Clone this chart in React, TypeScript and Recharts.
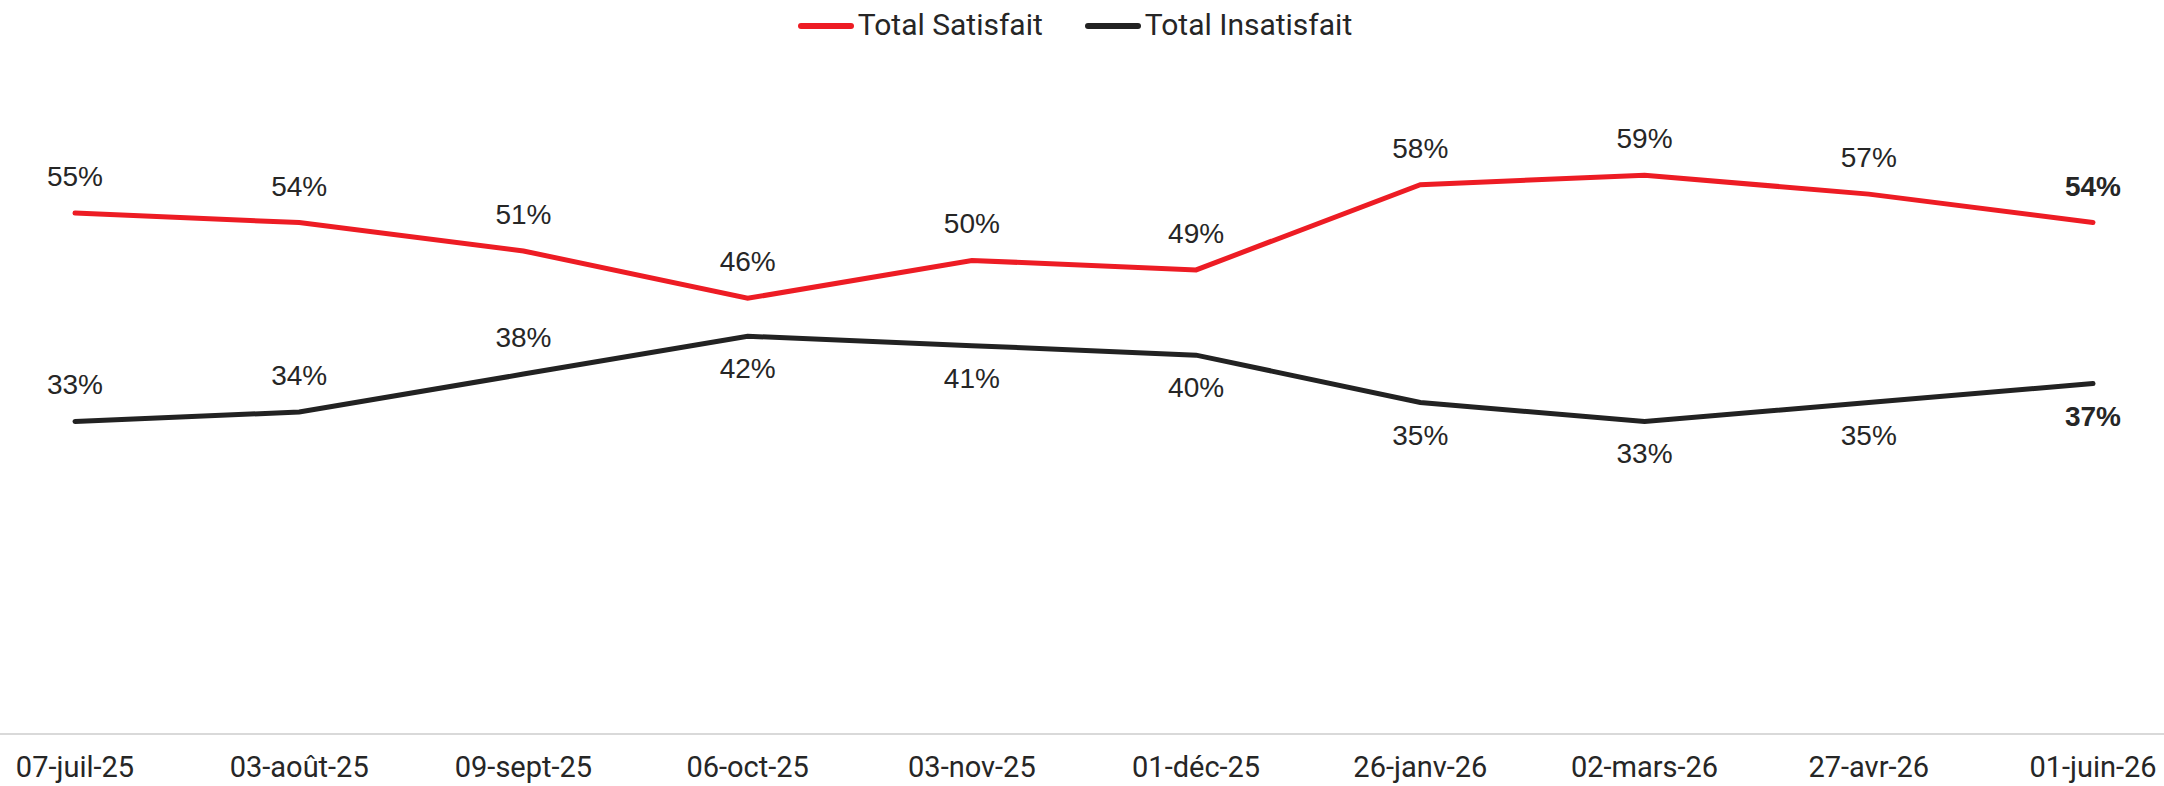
import React from "react";
import { LineChart, Line, XAxis, YAxis, Legend, LabelList } from "recharts";

const dates = [
  "07-juil-25",
  "03-août-25",
  "09-sept-25",
  "06-oct-25",
  "03-nov-25",
  "01-déc-25",
  "26-janv-26",
  "02-mars-26",
  "27-avr-26",
  "01-juin-26",
];
const satisfait = [0.55, 0.54, 0.51, 0.46, 0.5, 0.49, 0.58, 0.59, 0.57, 0.54];
const insatisfait = [0.33, 0.34, 0.38, 0.42, 0.41, 0.4, 0.35, 0.33, 0.35, 0.37];

const data = dates.map((d, i) => ({
  date: d,
  satisfait: satisfait[i],
  insatisfait: insatisfait[i],
}));

const RED = "#ED1C24";
const BLACK = "#222222";
const TEXT = "#262626";
const UI_FONT = "Roboto, 'Noto Sans', sans-serif";
const LABEL_FONT = "'Liberation Sans', Arial, sans-serif";
const LAST = dates.length - 1;

const pct = (v: number) => `${Math.round(v * 100)}%`;

const SatLabel = (props: any) => {
  const { x, y, value, index } = props;
  return (
    <text
      x={x}
      y={y - 27}
      textAnchor="middle"
      fontFamily={LABEL_FONT}
      fontSize={28}
      fontWeight={index === LAST ? 700 : 400}
      fill={TEXT}
    >
      {pct(value)}
    </text>
  );
};

const InsLabel = (props: any) => {
  const { x, y, value, index } = props;
  const above = index < 3;
  return (
    <text
      x={x}
      y={above ? y - 27 : y + 42}
      textAnchor="middle"
      fontFamily={LABEL_FONT}
      fontSize={28}
      fontWeight={index === LAST ? 700 : 400}
      fill={TEXT}
    >
      {pct(value)}
    </text>
  );
};

const Tick = (props: any) => {
  const { x, y, payload } = props;
  return (
    <text
      x={x}
      y={y + 43}
      textAnchor="middle"
      fontFamily={UI_FONT}
      fontSize={29}
      fill={TEXT}
    >
      {payload.value}
    </text>
  );
};

const LegendContent = () => {
  const items = [
    { name: "Total Satisfait", color: RED },
    { name: "Total Insatisfait", color: BLACK },
  ];
  return (
    <div style={{ height: 71, position: "relative", width: 2164 }}>
      <div
        style={{
          position: "absolute",
          top: 7,
          left: 0,
          width: 2150,
          display: "flex",
          justifyContent: "center",
          gap: 42,
          fontFamily: UI_FONT,
          fontSize: 30,
          color: TEXT,
          lineHeight: "36px",
        }}
      >
        {items.map((it) => (
          <div key={it.name} style={{ display: "flex", alignItems: "center" }}>
            <div
              style={{
                width: 56,
                height: 6,
                marginTop: 2,
                borderRadius: 3,
                background: it.color,
                marginRight: 4,
              }}
            />
            <span>{it.name}</span>
          </div>
        ))}
      </div>
    </div>
  );
};

export default function App() {
  return (
    <div style={{ position: "absolute", top: 0, left: 0, width: 2164, height: 786, background: "#fff" }}>
      <LineChart width={2164} height={786} data={data} margin={{ top: 0, right: 0, bottom: 0, left: 0 }}>
        <Legend verticalAlign="top" align="center" content={<LegendContent />} />
        <XAxis
          dataKey="date"
          padding={{ left: 75, right: 71 }}
          axisLine={{ stroke: "#D9D9D9", strokeWidth: 2 }}
          tickLine={false}
          tickSize={0}
          tickMargin={0}
          height={52}
          interval={0}
          tick={<Tick />}
        />
        <YAxis hide domain={[0, 0.7]} />
        <Line
          type="linear"
          dataKey="satisfait"
          stroke={RED}
          strokeWidth={5}
          dot={false}
          strokeLinecap="round"
          isAnimationActive={false}
        >
          <LabelList dataKey="satisfait" content={<SatLabel />} />
        </Line>
        <Line
          type="linear"
          dataKey="insatisfait"
          stroke={BLACK}
          strokeWidth={5}
          dot={false}
          strokeLinecap="round"
          isAnimationActive={false}
        >
          <LabelList dataKey="insatisfait" content={<InsLabel />} />
        </Line>
      </LineChart>
    </div>
  );
}
